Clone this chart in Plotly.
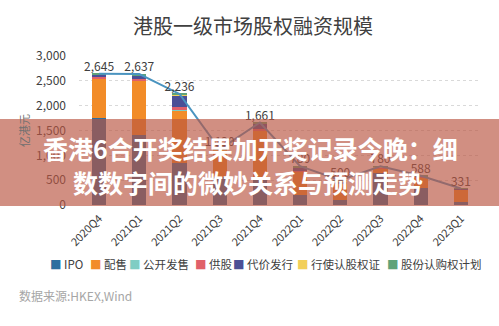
import plotly.graph_objects as go

quarters = ["2020Q4", "2021Q1", "2021Q2", "2021Q3", "2021Q4",
            "2022Q1", "2022Q2", "2022Q3", "2022Q4", "2023Q1"]
ipo = [1760, 1400, 840, 560, 560, 200, 100, 650, 340, 60]
placing = [780, 1110, 1060, 480, 940, 480, 330, 80, 220, 255]
public_offer = [10, 5, 10, 5, 5, 2, 2, 5, 3, 1]
rights = [25, 20, 60, 20, 30, 10, 10, 10, 5, 5]
consideration = [45, 80, 240, 40, 110, 70, 40, 20, 10, 5]
warrants = [5, 2, 6, 5, 5, 3, 3, 5, 3, 2]
share_option = [20, 20, 20, 10, 11, 15, 15, 10, 7, 3]
totals = [2645, 2637, 2236, 1120, 1661, 780, 500, 780, 588, 331]

series_names = ["IPO", "配售", "公开发售", "供股", "代价发行", "行使认股权证", "股份认购权计划"]
series_vals = [ipo, placing, public_offer, rights, consideration, warrants, share_option]
colors = ["#2f6e9f", "#f28c28", "#7fcdc4", "#e0606a", "#4b4f96", "#f2cf5b", "#5fa37a"]

FONT = "Noto Sans CJK SC"
L, R, T, B = 79, 18, 56, 121
W, H = 499, 326
PW, PH = W - L - R, H - T - B


def px(x):
    return (x - L) / PW


def py(y):
    return (H - B - y) / PH


fig = go.Figure()
for name, vals, c in zip(series_names, series_vals, colors):
    fig.add_trace(go.Bar(x=quarters, y=vals, name=name, marker_color=c,
                         marker_line_width=0, showlegend=False))

fig.add_trace(go.Scatter(x=quarters, y=totals, mode="lines+text",
                         line=dict(color="#4a94c0", width=2),
                         text=[f"{v:,}" for v in totals], textposition="top center",
                         textfont=dict(size=12, color="#404040", family=FONT),
                         showlegend=False))

fig.update_layout(
    width=W, height=H,
    margin=dict(l=L, r=R, t=T, b=B),
    barmode="stack", bargap=0.65,
    plot_bgcolor="white", paper_bgcolor="white",
    font=dict(family=FONT, color="#404040"),
    title=dict(text="港股一级市场股权融资规模", x=253 / W, xanchor="center",
               y=1 - 27 / H, yanchor="middle",
               font=dict(size=20, color="#404040", family=FONT)),
)
fig.update_xaxes(tickangle=-45, tickfont=dict(size=11, color="#404040"),
                 showline=False, ticks="", ticklabelstandoff=4)
fig.update_yaxes(range=[0, 3000], dtick=500, tickformat=",",
                 tickfont=dict(size=12, color="#404040"),
                 ticklabelstandoff=12,
                 showgrid=True, gridcolor="#d9d9d9", griddash="dot", gridwidth=1,
                 zeroline=False,
                 title=dict(text="亿港元", font=dict(size=11, color="#707070"), standoff=4))

# legend drawn manually
leg_x = [48, 88, 127, 193, 231, 295, 385]
for name, c, lx in zip(series_names, colors, leg_x):
    fig.add_annotation(x=px(lx), y=py(264), xref="paper", yref="paper",
                       text=f"<span style='color:{c}'>■</span> {name}",
                       showarrow=False, xanchor="left", yanchor="middle",
                       font=dict(size=11.5, color="#404040", family=FONT))

fig.add_annotation(x=px(17), y=py(295), xref="paper", yref="paper",
                   text="数据来源:HKEX,Wind", showarrow=False,
                   xanchor="left", yanchor="middle",
                   font=dict(size=12, color="#a6a6a6", family=FONT))

# overlay banner
fig.add_shape(type="rect", xref="paper", yref="paper",
              x0=px(-5), x1=px(W + 5), y0=py(206), y1=py(119),
              fillcolor="rgba(185,85,65,0.66)", line_width=0, layer="above")
fig.add_annotation(x=px(250), y=py(148), xref="paper", yref="paper",
                   text="<b>香港6合开奖结果加开奖记录今晚：细</b>", showarrow=False,
                   xanchor="center", yanchor="middle",
                   font=dict(size=25, color="white", family=FONT))
fig.add_annotation(x=px(248), y=py(182), xref="paper", yref="paper",
                   text="<b>数数字间的微妙关系与预测走势</b>", showarrow=False,
                   xanchor="center", yanchor="middle",
                   font=dict(size=25, color="white", family=FONT))

fig.write_html("out.html")
